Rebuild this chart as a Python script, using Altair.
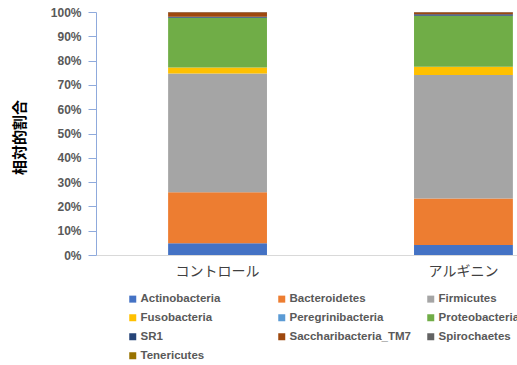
import altair as alt
import pandas as pd

groups = ["コントロール", "アルギニン"]
phyla = [
    "Actinobacteria", "Bacteroidetes", "Firmicutes", "Fusobacteria",
    "Peregrinibacteria", "Proteobacteria", "SR1", "Saccharibacteria_TM7",
    "Spirochaetes", "Tenericutes",
]
colors = [
    "#4472C4", "#ED7D31", "#A5A5A5", "#FFC000", "#5B9BD5",
    "#70AD47", "#264478", "#9E480E", "#636363", "#997300",
]
# relative abundance (%) per phylum, in the same order as `phyla`
control = [4.8, 21.0, 49.0, 2.4, 0.05, 20.5, 0.4, 1.8, 0.1, 0.05]
arginine = [4.1, 19.2, 50.8, 3.4, 0.05, 21.0, 0.6, 0.8, 0.1, 0.05]

rows = []
for g, vals in zip(groups, [control, arginine]):
    for i, (p, v) in enumerate(zip(phyla, vals)):
        rows.append({"group": g, "phylum": p, "value": v, "idx": i})
df = pd.DataFrame(rows)

latin = "Liberation Sans"
cjk = "Noto Sans CJK JP"

chart = alt.Chart(df).mark_bar().encode(
    x=alt.X(
        "group:N",
        sort=groups,
        title=None,
        scale=alt.Scale(paddingInner=0.598, paddingOuter=0.155, align=0.946),
        axis=alt.Axis(
            labelAngle=0, labelFont=cjk, labelFontSize=14, labelColor="#404040",
            labelPadding=9, ticks=False, domainColor="#D9D9D9", domainWidth=1,
        ),
    ),
    y=alt.Y(
        "value:Q",
        stack="normalize",
        title="相対的割合",
        scale=alt.Scale(domain=[0, 1]),
        axis=alt.Axis(
            values=[i / 10 for i in range(11)], format=".0%", grid=False,
            labelFont=latin, labelFontSize=12, labelFontWeight="bold",
            labelColor="#595959", labelPadding=7, tickSize=8,
            tickColor="#8FAADC", domainColor="#8FAADC",
            titleFont=cjk, titleFontSize=15, titleFontWeight="bold",
            titleColor="#000000", titleAngle=270, titleBaseline="middle",
            titleX=-77, titleY=125,
        ),
    ),
    color=alt.Color(
        "phylum:N",
        sort=phyla,
        scale=alt.Scale(domain=phyla, range=colors),
        legend=alt.Legend(
            title=None, orient="none", legendX=31, legendY=281, columns=3,
            direction="horizontal",
            symbolType="square", symbolSize=49, symbolStrokeWidth=0,
            labelFont=latin, labelFontSize=11.5, labelFontWeight="bold",
            labelColor="#595959", labelOffset=2, rowPadding=6,
            columnPadding=14, gridAlign="all", padding=0, labelLimit=300,
        ),
    ),
    order=alt.Order("idx:Q", sort="ascending"),
).properties(
    width=421,
    height=243,
    autosize=alt.AutoSizeParams(type="none"),
    padding={"left": 96, "top": 12, "right": 0, "bottom": 110},
).configure_view(stroke=None)

chart.save("out.html", embed_options={"renderer": "svg", "actions": False})
